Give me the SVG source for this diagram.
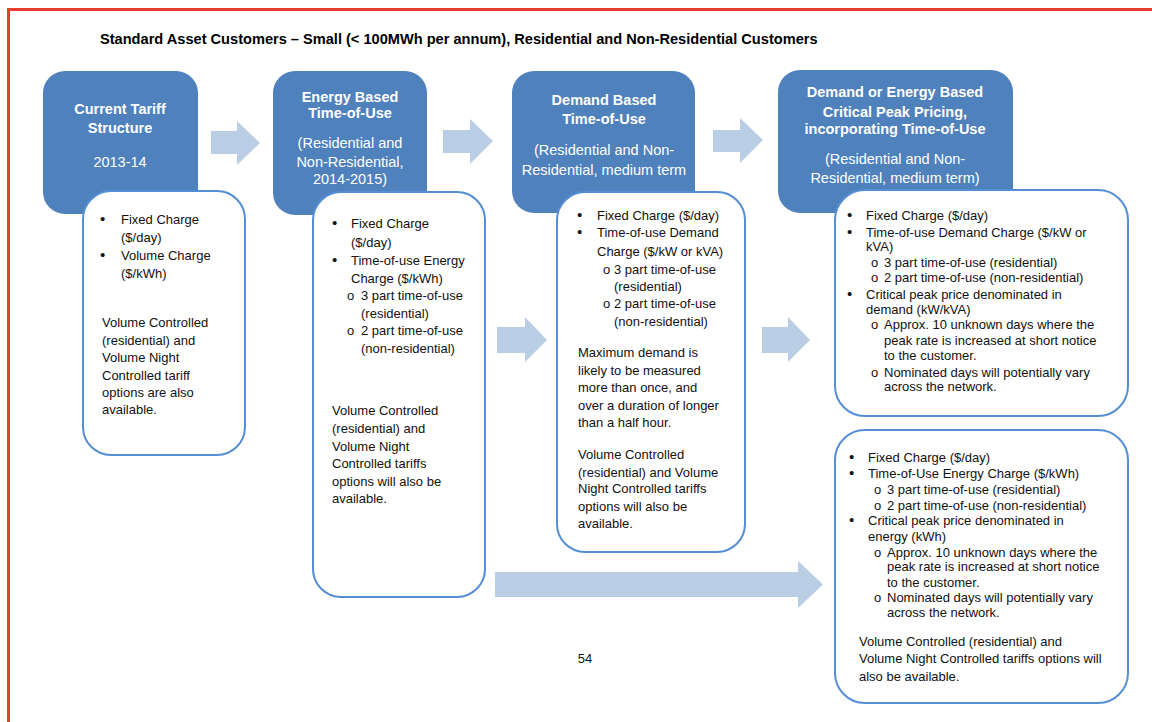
<svg xmlns="http://www.w3.org/2000/svg" width="1152" height="722" viewBox="0 0 1152 722">
<style>
text{font-family:"Liberation Sans",Arial,sans-serif;}
.title{font-size:14.6px;font-weight:bold;fill:#000;}
.hb{font-size:14.5px;font-weight:bold;fill:#fff;text-anchor:middle;}
.hr{font-size:14.5px;fill:#fff;text-anchor:middle;}
.t{font-size:13px;fill:#111;}
.b{font-size:15px;fill:#111;}
.head{fill:#4F81BD;}
.card{fill:#fff;stroke:#558ED5;stroke-width:2;}
.arr{fill:#B9CDE5;}
</style>
<rect x="0" y="0" width="1152" height="722" fill="#fff"/>
<rect x="8.5" y="9.5" width="1160" height="730" fill="none" stroke="#E53E30" stroke-width="3"/>
<text class="title" x="100" y="44">Standard Asset Customers – Small (&lt; 100MWh per annum), Residential and Non-Residential Customers</text>

<g id="connectors">
<polygon class="arr" points="211,131 237,131 237,121 260,143 237,165 237,154 211,154"/>
<polygon class="arr" points="443,130 470,130 470,119 493,141 470,164 470,153 443,153"/>
<polygon class="arr" points="713,130 740,130 740,118 763,140 740,163 740,152 713,152"/>
<polygon class="arr" points="497,327 525,327 525,317 547,340 525,362 525,353 497,353"/>
<polygon class="arr" points="762,327 788,327 788,317 810,340 788,362 788,353 762,353"/>
<polygon class="arr" points="495,572 798,572 798,561 823,584.5 798,608 798,597 495,597"/>
</g>

<g id="node-current">
<rect class="head" x="43" y="71" width="155" height="143" rx="22"/>
<text class="hb" x="120" y="114">Current Tariff</text>
<text class="hb" x="120" y="133">Structure</text>
<text class="hr" x="120" y="167">2013-14</text>
<rect class="card" x="83" y="191" width="162" height="264" rx="28"/>
<text class="b" x="100" y="224">•</text><text class="t" x="121" y="224">Fixed Charge</text>
<text class="t" x="121" y="242">($/day)</text>
<text class="b" x="100" y="260">•</text><text class="t" x="121" y="260">Volume Charge</text>
<text class="t" x="121" y="278">($/kWh)</text>
<text class="t" x="102" y="327">Volume Controlled</text>
<text class="t" x="102" y="345">(residential) and</text>
<text class="t" x="102" y="362">Volume Night</text>
<text class="t" x="102" y="380">Controlled tariff</text>
<text class="t" x="102" y="397">options are also</text>
<text class="t" x="102" y="414">available.</text>
</g>

<g id="node-energy-tou">
<rect class="head" x="273" y="71" width="154" height="144" rx="22"/>
<text class="hb" x="350" y="102">Energy Based</text>
<text class="hb" x="350" y="118">Time-of-Use</text>
<text class="hr" x="350" y="148">(Residential and</text>
<text class="hr" x="350" y="167">Non-Residential,</text>
<text class="hr" x="350" y="184">2014-2015)</text>
<rect class="card" x="313" y="192" width="172" height="405" rx="28"/>
<text class="b" x="332" y="228">•</text><text class="t" x="351" y="228">Fixed Charge</text>
<text class="t" x="351" y="247">($/day)</text>
<text class="b" x="332" y="265">•</text><text class="t" x="351" y="265">Time-of-use Energy</text>
<text class="t" x="351" y="283">Charge ($/kWh)</text>
<text class="t" x="347" y="300">o</text><text class="t" x="361" y="300">3 part time-of-use</text>
<text class="t" x="361" y="318">(residential)</text>
<text class="t" x="347" y="335">o</text><text class="t" x="361" y="335">2 part time-of-use</text>
<text class="t" x="361" y="353">(non-residential)</text>
<text class="t" x="332" y="415">Volume Controlled</text>
<text class="t" x="332" y="433">(residential) and</text>
<text class="t" x="332" y="451">Volume Night</text>
<text class="t" x="332" y="468">Controlled tariffs</text>
<text class="t" x="332" y="486">options will also be</text>
<text class="t" x="332" y="503">available.</text>
</g>

<g id="node-demand-tou">
<rect class="head" x="512" y="71" width="183" height="142" rx="22"/>
<text class="hb" x="604" y="105">Demand Based</text>
<text class="hb" x="604" y="124">Time-of-Use</text>
<text class="hr" x="604" y="155">(Residential and Non-</text>
<text class="hr" x="604" y="175">Residential, medium term</text>
<rect class="card" x="557" y="192" width="188" height="360" rx="28"/>
<text class="b" x="577" y="220">•</text><text class="t" x="597" y="220">Fixed Charge ($/day)</text>
<text class="b" x="577" y="237">•</text><text class="t" x="597" y="237">Time-of-use Demand</text>
<text class="t" x="597" y="256">Charge ($/kW or kVA)</text>
<text class="t" x="603" y="274">o</text><text class="t" x="614" y="274">3 part time-of-use</text>
<text class="t" x="614" y="291">(residential)</text>
<text class="t" x="603" y="308">o</text><text class="t" x="614" y="308">2 part time-of-use</text>
<text class="t" x="614" y="326">(non-residential)</text>
<text class="t" x="578" y="357">Maximum demand is</text>
<text class="t" x="578" y="375">likely to be measured</text>
<text class="t" x="578" y="392">more than once, and</text>
<text class="t" x="578" y="410">over a duration of longer</text>
<text class="t" x="578" y="427">than a half hour.</text>
<text class="t" x="578" y="459">Volume Controlled</text>
<text class="t" x="578" y="477">(residential) and Volume</text>
<text class="t" x="578" y="493">Night Controlled tariffs</text>
<text class="t" x="578" y="511">options will also be</text>
<text class="t" x="578" y="528">available.</text>
</g>

<g id="node-cpp">
<rect class="head" x="778" y="70" width="235" height="143" rx="22"/>
<text class="hb" x="895" y="97">Demand or Energy Based</text>
<text class="hb" x="895" y="117">Critical Peak Pricing,</text>
<text class="hb" x="895" y="134">incorporating Time-of-Use</text>
<text class="hr" x="895" y="164">(Residential and Non-</text>
<text class="hr" x="895" y="183">Residential, medium term)</text>
</g>

<g id="node-cpp-demand">
<rect class="card" x="835" y="190" width="293" height="226" rx="30"/>
<text class="b" x="847" y="220">•</text><text class="t" x="866" y="220">Fixed Charge ($/day)</text>
<text class="b" x="847" y="237">•</text><text class="t" x="866" y="237">Time-of-use Demand Charge ($/kW or</text>
<text class="t" x="866" y="251">kVA)</text>
<text class="t" x="871" y="267">o</text><text class="t" x="884" y="267">3 part time-of-use (residential)</text>
<text class="t" x="871" y="282">o</text><text class="t" x="884" y="282">2 part time-of-use (non-residential)</text>
<text class="b" x="847" y="299">•</text><text class="t" x="866" y="299">Critical peak price denominated in</text>
<text class="t" x="866" y="314">demand (kW/kVA)</text>
<text class="t" x="871" y="329">o</text><text class="t" x="884" y="329">Approx. 10 unknown days where the</text>
<text class="t" x="884" y="345">peak rate is increased at short notice</text>
<text class="t" x="884" y="360">to the customer.</text>
<text class="t" x="871" y="377">o</text><text class="t" x="884" y="377">Nominated days will potentially vary</text>
<text class="t" x="884" y="391">across the network.</text>
</g>

<g id="node-cpp-energy">
<rect class="card" x="835" y="430" width="293" height="273" rx="30"/>
<text class="b" x="849" y="462">•</text><text class="t" x="868" y="462">Fixed Charge ($/day)</text>
<text class="b" x="849" y="478">•</text><text class="t" x="868" y="478">Time-of-Use Energy Charge ($/kWh)</text>
<text class="t" x="874" y="494">o</text><text class="t" x="887" y="494">3 part time-of-use (residential)</text>
<text class="t" x="874" y="510">o</text><text class="t" x="887" y="510">2 part time-of-use (non-residential)</text>
<text class="b" x="849" y="525">•</text><text class="t" x="868" y="525">Critical peak price denominated in</text>
<text class="t" x="868" y="541">energy (kWh)</text>
<text class="t" x="874" y="557">o</text><text class="t" x="887" y="557">Approx. 10 unknown days where the</text>
<text class="t" x="887" y="571">peak rate is increased at short notice</text>
<text class="t" x="887" y="587">to the customer.</text>
<text class="t" x="874" y="602">o</text><text class="t" x="887" y="602">Nominated days will potentially vary</text>
<text class="t" x="887" y="617">across the network.</text>
<text class="t" x="859" y="646">Volume Controlled (residential) and</text>
<text class="t" x="859" y="663">Volume Night Controlled tariffs options will</text>
<text class="t" x="859" y="681">also be available.</text>
</g>

<text class="t" x="585" y="663" text-anchor="middle">54</text>
</svg>
